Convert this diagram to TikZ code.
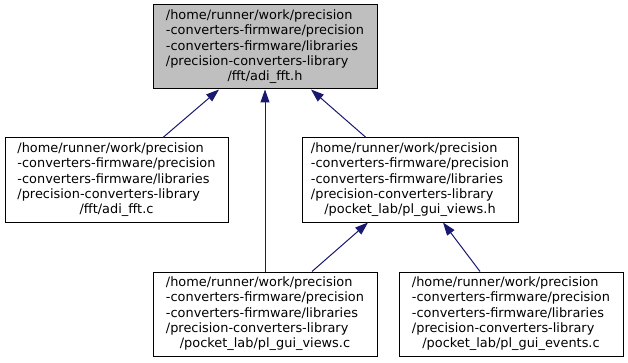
\documentclass[tikz,border=0pt]{standalone}
\usepackage{fontspec}
\setmainfont{DejaVu Sans}
\usetikzlibrary{arrows.meta, positioning}

\definecolor{edgeblue}{HTML}{191970}
\definecolor{rootgray}{HTML}{BFBFBF}

% 文件路径: 前几行左对齐, 最后一行居中
\newcommand{\fpath}[2]{\begin{tabular}{@{}l@{}}#1\\\multicolumn{1}{@{}c@{}}{#2}\end{tabular}}

\tikzset{
    filebox/.style={draw=black, fill=white, line width=1pt, inner sep=0pt,
        minimum width=224pt, minimum height=84pt,
        font=\fontsize{12.9}{15.2}\selectfont},
    dep/.style={draw=edgeblue, line width=1pt, -{Triangle[length=13pt,width=9pt]}}
}

\begin{document}
\begin{tikzpicture}[x=1pt, y=-1pt]

    % 0. 背景与画布大小
    \fill[white] (0,0) rectangle (628,363);
    \useasboundingbox (0,0) rectangle (628,363);

    % 1. 被包含的头文件 (顶部, 灰色)
    \node[filebox, fill=rootgray] (ffth) at (265,47) {\fpath{/home/runner/work/precision\\
        -converters-firmware/precision\\
        -converters-firmware/libraries\\
        /precision-converters-library}{/fft/adi\_fft.h}};

    % 2. 第二层: adi_fft.c 和 pl_gui_views.h
    \node[filebox, minimum width=223pt] (fftc) at (116.5,180) {\fpath{/home/runner/work/precision\\
        -converters-firmware/precision\\
        -converters-firmware/libraries\\
        /precision-converters-library}{/fft/adi\_fft.c}};
    \node[filebox, minimum width=216pt] (viewsh) at (410,180) {\fpath{/home/runner/work/precision\\
        -converters-firmware/precision\\
        -converters-firmware/libraries\\
        /precision-converters-library}{/pocket\_lab/pl\_gui\_views.h}};

    % 3. 第三层: pl_gui_views.c 和 pl_gui_events.c
    \node[filebox] (viewsc) at (265,314) {\fpath{/home/runner/work/precision\\
        -converters-firmware/precision\\
        -converters-firmware/libraries\\
        /precision-converters-library}{/pocket\_lab/pl\_gui\_views.c}};
    \node[filebox] (eventsc) at (511,314) {\fpath{/home/runner/work/precision\\
        -converters-firmware/precision\\
        -converters-firmware/libraries\\
        /precision-converters-library}{/pocket\_lab/pl\_gui\_events.c}};

    % 4. 包含关系 (箭头指向被包含的文件)
    \draw[dep] ([xshift=46.5pt]fftc.north) -- ([xshift=-46pt]ffth.south);
    \draw[dep] (viewsc.north) -- (ffth.south);
    \draw[dep] ([xshift=-44pt]viewsh.north) -- ([xshift=46pt]ffth.south);
    \draw[dep] ([xshift=47pt]viewsc.north) -- ([xshift=-42pt]viewsh.south);
    \draw[dep] ([xshift=-31pt]eventsc.north) -- ([xshift=33pt]viewsh.south);

\end{tikzpicture}
\end{document}
